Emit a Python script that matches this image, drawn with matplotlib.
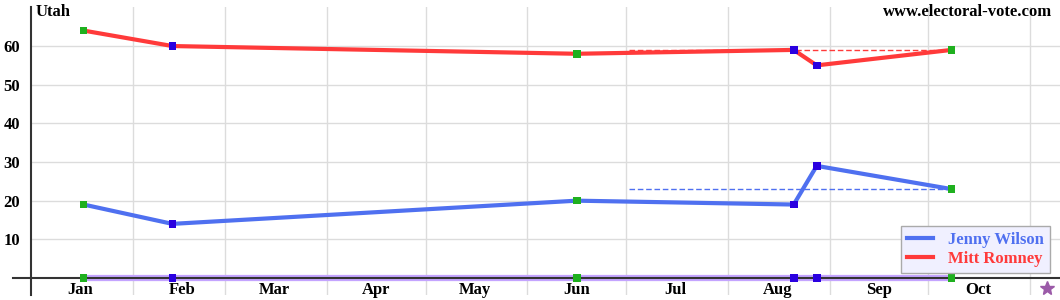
import datetime as dt
import matplotlib
matplotlib.use("Agg")
import matplotlib.pyplot as plt

plt.rcParams['font.family'] = ['Liberation Serif', 'DejaVu Serif']
plt.rcParams['font.weight'] = 'bold'
plt.rcParams['font.size'] = 12

# poll dates and results (Utah senate 2018)
poll_dates = [dt.date(2018, 1, 17), dt.date(2018, 2, 13), dt.date(2018, 6, 16),
              dt.date(2018, 8, 21), dt.date(2018, 8, 28), dt.date(2018, 10, 8)]
romney = [64, 60, 58, 59, 55, 59]
wilson = [19, 14, 20, 19, 29, 23]
other = [0, 0, 0, 0, 0, 0]
marker_colors = ['#1fb01f', '#2a00e0', '#1fb01f', '#2a00e0', '#2a00e0', '#1fb01f']

# running average shown as dashed line
avg_start = dt.date(2018, 7, 2)
avg_end = dt.date(2018, 10, 8)
romney_avg = 59
wilson_avg = 23

months = ['Jan', 'Feb', 'Mar', 'Apr', 'May', 'Jun', 'Jul', 'Aug', 'Sep', 'Oct']
yticks = [10, 20, 30, 40, 50, 60]
election_day = dt.date(2018, 11, 6)

red = '#ff3a3a'
blue = '#4f70f0'

fig = plt.figure(figsize=(10.6, 3.0), dpi=100)
ax = fig.add_axes([31 / 1060, 5 / 300, 1 - 31 / 1060, 288 / 300])

x0 = dt.date(2018, 1, 1)
x1 = x0 + dt.timedelta(days=313)
ax.set_xlim(x0, x1)
ax.set_ylim(-4.4, 70.1)

# grid: month boundaries and every 10 points
for m in range(2, 12):
    ax.axvline(dt.date(2018, m, 1), color='#dcdcdc', lw=1, zorder=0)
for v in yticks:
    ax.axhline(v, color='#dcdcdc', lw=1, zorder=0)

# zero line with the "other" series on it
ax.plot(poll_dates, other, color='#c4a4ff', lw=4.5, zorder=2, solid_capstyle='butt')
ax.axhline(0, xmin=-18 / 1029, xmax=1, color='#333333', lw=1.5, zorder=3, clip_on=False)

ax.plot([avg_start, avg_end], [romney_avg, romney_avg], color=red, lw=1, ls=(0, (4, 2)), zorder=2)
ax.plot([avg_start, avg_end], [wilson_avg, wilson_avg], color=blue, lw=1, ls=(0, (4, 2)), zorder=2)

ax.plot(poll_dates, wilson, color=blue, lw=3, label='Jenny Wilson', zorder=4)
ax.plot(poll_dates, romney, color=red, lw=3, label='Mitt Romney', zorder=4)

for series in (wilson, romney, other):
    ax.scatter(poll_dates, series, marker='s', s=30, c=marker_colors,
               edgecolors='none', zorder=5)

# month labels in the middle of each month
for i, name in enumerate(months):
    ax.text(dt.date(2018, i + 1, 16), -3.0, name, ha='center', va='center',
            fontsize=12, fontweight='bold')

ax.plot([election_day], [-2.6], marker='*', ms=10, color='#9b5aa8', mec='#9b5aa8',
        clip_on=False, zorder=5)

ax.set_xticks([])
ax.set_yticks(yticks)
ax.tick_params(axis='y', length=0, pad=8)
for lab in ax.get_yticklabels():
    lab.set_fontweight('bold')

for s in ['top', 'right', 'bottom']:
    ax.spines[s].set_visible(False)
ax.spines['left'].set_color('#333333')
ax.spines['left'].set_linewidth(1.5)

fig.text(36 / 1060, 1 - 12 / 300, 'Utah', ha='left', va='center', fontsize=12, fontweight='bold')
fig.text(1052 / 1060, 1 - 12 / 300, 'www.electoral-vote.com', ha='right', va='center',
         fontsize=12, fontweight='bold')

leg = ax.legend(loc='lower right', bbox_to_anchor=(1050 / 1060, 27 / 300),
                bbox_transform=fig.transFigure, frameon=True, fancybox=False,
                borderaxespad=0, handlelength=1.6, handletextpad=0.9,
                borderpad=0.35, labelspacing=0.2,
                prop={'weight': 'bold', 'size': 12})
leg.get_frame().set_facecolor('#f0f0ff')
leg.get_frame().set_edgecolor('#aaaaaa')
leg.get_frame().set_alpha(1)
for txt, col in zip(leg.get_texts(), [blue, red]):
    txt.set_color(col)

fig.savefig('out.png', dpi=100)
